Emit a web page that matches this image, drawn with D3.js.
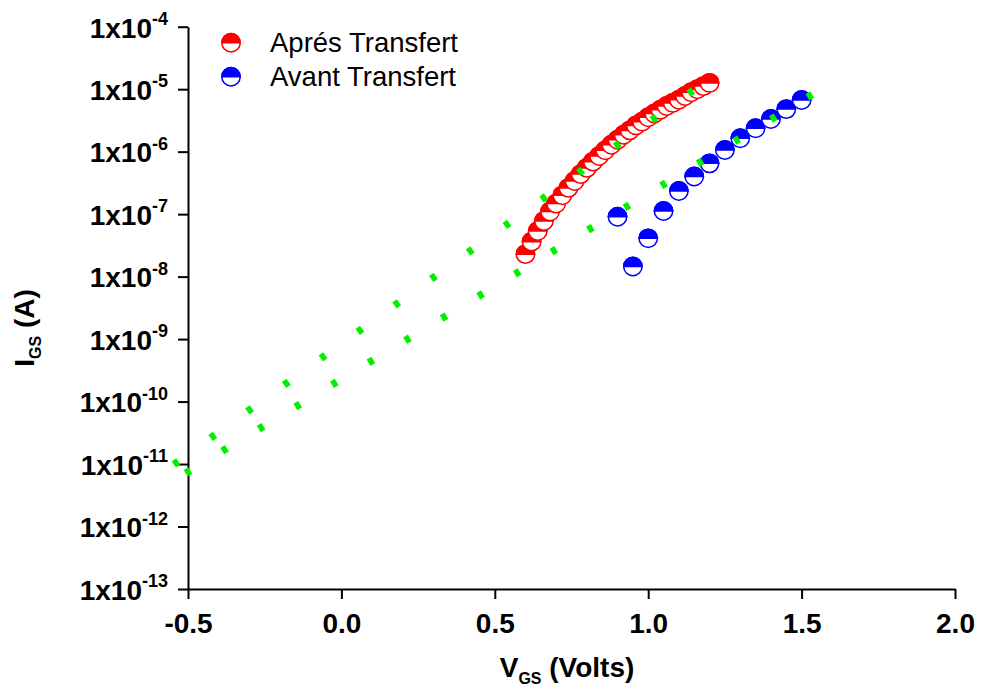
<!DOCTYPE html>
<html><head><meta charset="utf-8">
<script src="https://cdn.jsdelivr.net/npm/d3@7"></script>
<style>body{margin:0;background:#fff} svg{display:block}</style>
</head><body>
<svg id="chart" width="982" height="693"></svg>
<script>
// ---- data ----
const xTickValues = [-0.5, 0.0, 0.5, 1.0, 1.5, 2.0];
const xTickLabels = ["-0.5", "0.0", "0.5", "1.0", "1.5", "2.0"];
const xMinorValues = [-0.25, 0.25, 0.75, 1.25, 1.75];
const yTickExponents = [-13, -12, -11, -10, -9, -8, -7, -6, -5, -4];
const seriesNames = ["Aprés Transfert", "Avant Transfert"];

const apresV = [0.60,0.62,0.64,0.66,0.68,0.70,0.72,0.74,0.76,0.78,0.80,0.82,0.84,0.86,0.88,0.90,
                0.92,0.94,0.96,0.98,1.00,1.02,1.04,1.06,1.08,1.10,1.12,1.14,1.16,1.18,1.20];
const apresI = [2.29e-8,3.63e-8,5.37e-8,7.76e-8,1.10e-7,1.48e-7,2.00e-7,2.63e-7,3.39e-7,4.37e-7,
                5.50e-7,6.92e-7,8.51e-7,1.05e-6,1.29e-6,1.55e-6,1.86e-6,2.19e-6,2.63e-6,3.02e-6,
                3.55e-6,4.07e-6,4.68e-6,5.37e-6,6.03e-6,6.76e-6,7.76e-6,8.91e-6,1.00e-5,1.12e-5,1.26e-5];

const avantV = [0.90,0.95,1.00,1.05,1.10,1.15,1.20,1.25,1.30,1.35,1.40,1.45,1.50];
const avantI = [9.1e-8,1.45e-8,4.1e-8,1.12e-7,2.35e-7,4.0e-7,6.5e-7,1.06e-6,1.64e-6,2.37e-6,3.33e-6,4.8e-6,6.7e-6];

// guide lines (green dotted), endpoints
const guideUpperV = [-0.539, 1.139];
const guideUpperI = [1.045e-11, 9.0e-6];
const guideLowerV = [-0.5, 1.527];
const guideLowerI = [7.5e-12, 7.8e-6];

// ---- style ----
const FONT = "'Liberation Sans', Arial, Helvetica, sans-serif";
const colors = ["#ff0000", "#0000ff"];
const green = "#00f000";
const R = 9.2;

const svg = d3.select("#chart");
const x = d3.scaleLinear().domain([-0.5, 2.0]).range([188, 955]);
const y = d3.scaleLog().domain([1e-13, 1e-4]).range([589, 26.7]);

// ---- axes ----
const gx = svg.append("g").attr("transform", `translate(0,${y(1e-13)})`);
gx.call(d3.axisBottom(x).tickValues(xMinorValues).tickSize(5).tickSizeOuter(0).tickFormat(() => ""));
gx.call(d3.axisBottom(x).tickValues(xTickValues).tickSize(10).tickSizeOuter(0)
  .tickFormat((d, i) => xTickLabels[i]).tickPadding(14));
gx.selectAll("path,line").attr("stroke", "#000").attr("stroke-width", 2);
gx.selectAll("text").attr("font-family", FONT).attr("font-weight", "bold")
  .attr("font-size", 28).attr("fill", "#000").attr("dy", "0.71em");

const yMajor = yTickExponents.map(e => Math.pow(10, e));
const yMinor = y.ticks().filter(v => {
  const l = Math.log10(v);
  return Math.abs(l - Math.round(l)) > 1e-6;
});
const gy = svg.append("g").attr("transform", `translate(${x(-0.5)},0)`);
gy.call(d3.axisLeft(y).tickValues(yMinor).tickSize(5).tickSizeOuter(0).tickFormat(() => ""));
gy.call(d3.axisLeft(y).tickValues(yMajor).tickSize(10).tickSizeOuter(0).tickFormat(() => ""));
gy.selectAll("path,line").attr("stroke", "#000").attr("stroke-width", 2);

const ylab = svg.append("g");
yTickExponents.forEach(e => {
  const t = ylab.append("text")
    .attr("x", 168).attr("y", y(Math.pow(10, e)) + 10.8)
    .attr("text-anchor", "end")
    .attr("font-family", FONT).attr("font-weight", "bold").attr("font-size", 28);
  t.append("tspan").text("1x10");
  t.append("tspan").attr("dy", -12.5).attr("font-size", 18).text(String(e));
});

// axis titles
const xt = svg.append("text").attr("x", 567).attr("y", 677).attr("text-anchor", "middle")
  .attr("font-family", FONT).attr("font-weight", "bold").attr("font-size", 28);
xt.append("tspan").text("V");
xt.append("tspan").attr("dy", 7).attr("font-size", 16).text("GS");
xt.append("tspan").attr("dy", -7).text(" (Volts)");

const yt = svg.append("text").attr("transform", "translate(34,328) rotate(-90)").attr("text-anchor", "middle")
  .attr("font-family", FONT).attr("font-weight", "bold").attr("font-size", 28);
yt.append("tspan").text("I");
yt.append("tspan").attr("dy", 7).attr("font-size", 16).text("GS");
yt.append("tspan").attr("dy", -7).text(" (A)");

// ---- markers ----
const halfArc = d3.arc().innerRadius(0).outerRadius(R).startAngle(-Math.PI / 2).endAngle(Math.PI / 2);
function marker(g, cx, cy, color) {
  const m = g.append("g").attr("transform", `translate(${cx},${cy})`);
  m.append("circle").attr("r", R).attr("fill", "#fff").attr("stroke", color).attr("stroke-width", 1.5);
  m.append("path").attr("d", halfArc()).attr("fill", color).attr("stroke", color).attr("stroke-width", 1.5);
}

const series = [
  { V: apresV, I: apresI, color: colors[0] },
  { V: avantV, I: avantI, color: colors[1] }
];
series.forEach(s => {
  const g = svg.append("g");
  s.V.forEach((v, i) => marker(g, x(v), y(s.I[i]), s.color));
});

// ---- green dotted guide lines ----
function guide(V, I, intervals) {
  const x1 = x(V[0]), y1 = y(I[0]), x2 = x(V[1]), y2 = y(I[1]);
  const len = Math.hypot(x2 - x1, y2 - y1);
  const ux = (x2 - x1) / len, uy = (y2 - y1) / len;
  const period = len / intervals;
  const dash = 5.5;
  svg.append("line")
    .attr("x1", x1 - ux * dash / 2).attr("y1", y1 - uy * dash / 2)
    .attr("x2", x2 + ux * dash / 2).attr("y2", y2 + uy * dash / 2)
    .attr("stroke", green).attr("stroke-width", 7.5)
    .attr("stroke-dasharray", `${dash} ${period - dash}`);
}
guide(guideUpperV, guideUpperI, 14);
guide(guideLowerV, guideLowerI, 17);

// ---- legend ----
const lg = svg.append("g");
seriesNames.forEach((name, i) => {
  const cy = 42.7 + i * 34;
  marker(lg, 231, cy, colors[i]);
  lg.append("text").attr("x", 270).attr("y", cy + 8.8)
    .attr("font-family", FONT).attr("font-size", 27.5).attr("fill", "#000").text(name);
});
</script>
</body></html>
